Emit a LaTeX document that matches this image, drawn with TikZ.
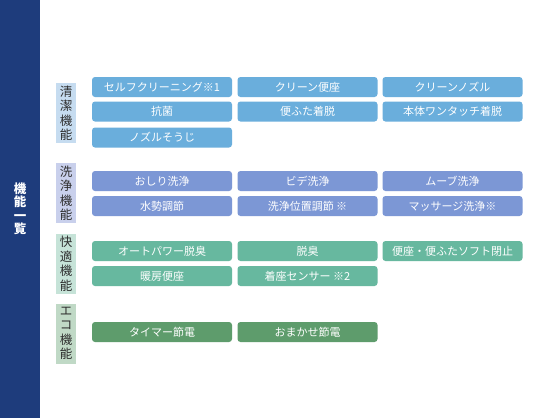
\documentclass[tikz,border=0pt]{standalone}
\usepackage{fontspec}
\setmainfont{Noto Sans CJK JP}
\definecolor{navy}{HTML}{1E3C7C}
\definecolor{cA}{HTML}{6AAEDC}
\definecolor{cB}{HTML}{7C97D5}
\definecolor{cC}{HTML}{67B89F}
\definecolor{cD}{HTML}{5E9C6C}
\definecolor{lA}{HTML}{C6DCF0}
\definecolor{lB}{HTML}{C9D0EC}
\definecolor{lC}{HTML}{C6E3D8}
\definecolor{lD}{HTML}{C0D9C6}
\definecolor{labtext}{HTML}{2E2E2E}
\begin{document}
\begin{tikzpicture}[x=1pt,y=-1pt,
  fbox/.style={fill=#1, rounded corners=3pt, minimum width=140pt, minimum height=20pt,
    inner sep=0pt, text=white, font=\fontsize{11}{13}\selectfont},
  cat/.style={fill=#1, minimum width=20pt, minimum height=60pt, inner sep=0pt,
    text=labtext, align=center, font=\fontsize{12.5}{14.5}\selectfont}]
\useasboundingbox (0,0) rectangle (557,418);
\fill[white] (0,0) rectangle (557,418);
\fill[navy] (0,0) rectangle (40,418);
\node[text=white, align=center, font=\bfseries\fontsize{12.5}{13.5}\selectfont] (title) at (20,209) {機\\能\\一\\覧};
% categories
\node[cat=lA] (k1) at (66,113) {清\\潔\\機\\能};
\node[cat=lB] (k2) at (66,193) {洗\\浄\\機\\能};
\node[cat=lC] (k3) at (66,263.5) {快\\適\\機\\能};
\node[cat=lD] (k4) at (66,333.5) {エ\\コ\\機\\能};
% cleaning
\node[fbox=cA] (a1) at (162,87) {セルフクリーニング※1};
\node[fbox=cA] (a2) at (307.5,87) {クリーン便座};
\node[fbox=cA] (a3) at (452.5,87) {クリーンノズル};
\node[fbox=cA] (a4) at (162,111.5) {抗菌};
\node[fbox=cA] (a5) at (307.5,111.5) {便ふた着脱};
\node[fbox=cA] (a6) at (452.5,111.5) {本体ワンタッチ着脱};
\node[fbox=cA] (a7) at (162,137.5) {ノズルそうじ};
% washing
\node[fbox=cB] (b1) at (162,181) {おしり洗浄};
\node[fbox=cB] (b2) at (307.5,181) {ビデ洗浄};
\node[fbox=cB] (b3) at (452.5,181) {ムーブ洗浄};
\node[fbox=cB] (b4) at (162,206) {水勢調節};
\node[fbox=cB] (b5) at (307.5,206) {洗浄位置調節 ※};
\node[fbox=cB] (b6) at (452.5,206) {マッサージ洗浄※};
% comfort
\node[fbox=cC] (c1) at (162,251) {オートパワー脱臭};
\node[fbox=cC] (c2) at (307.5,251) {脱臭};
\node[fbox=cC] (c3) at (452.5,251) {便座・便ふたソフト閉止};
\node[fbox=cC] (c4) at (162,276) {暖房便座};
\node[fbox=cC] (c5) at (307.5,276) {着座センサー ※2};
% eco
\node[fbox=cD] (d1) at (162,332) {タイマー節電};
\node[fbox=cD] (d2) at (307.5,332) {おまかせ節電};
\end{tikzpicture}
\end{document}
